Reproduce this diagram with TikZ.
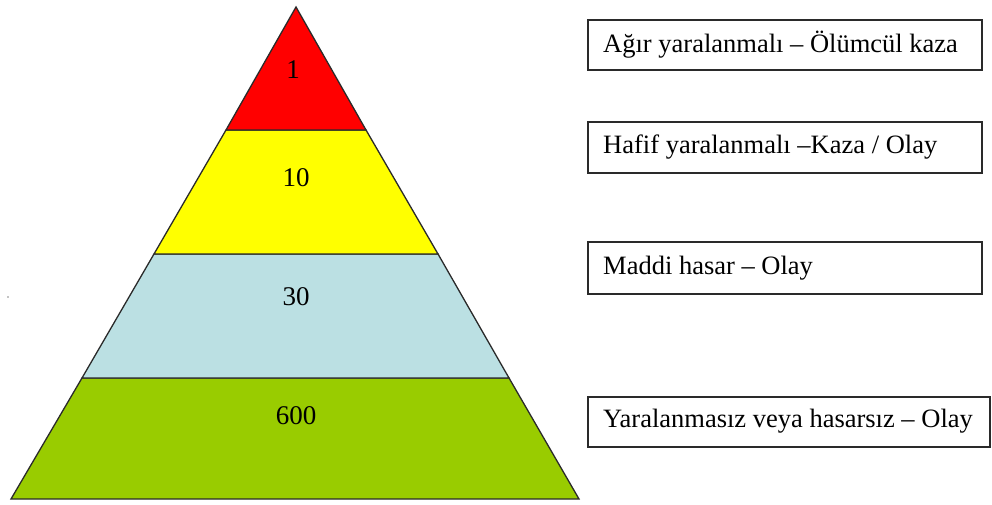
\documentclass[tikz,border=0pt]{standalone}
\usepackage{fontspec}
\setmainfont{Liberation Serif}
\definecolor{lvred}{HTML}{FF0000}
\definecolor{lvyellow}{HTML}{FFFF00}
\definecolor{lvblue}{HTML}{BBE0E3}
\definecolor{lvgreen}{HTML}{99CC00}
\definecolor{edge}{HTML}{2A2A2A}
\tikzset{
  layer/.style={draw=edge, line width=1.3pt, line join=miter},
  num/.style={font=\fontsize{27}{30}\selectfont, inner sep=0pt},
  labelbox/.style={draw=edge, line width=1.3pt},
  labeltext/.style={font=\fontsize{26.5}{30}\selectfont, anchor=west, inner sep=0pt}
}
\begin{document}
\begin{tikzpicture}[x=1pt,y=-1pt]
\useasboundingbox (0,0) rectangle (992,505);
% pyramid corner coordinates
\coordinate (apex) at (296,7);
\coordinate (l1) at (226,130); \coordinate (r1) at (366,130);
\coordinate (l2) at (154,254); \coordinate (r2) at (438,254);
\coordinate (l3) at (82,378);  \coordinate (r3) at (509,378);
\coordinate (l4) at (11,499);  \coordinate (r4) at (579,499);
\filldraw[layer, fill=lvgreen] (l3) -- (r3) -- (r4) -- (l4) -- cycle;
\filldraw[layer, fill=lvblue] (l2) -- (r2) -- (r3) -- (l3) -- cycle;
\filldraw[layer, fill=lvyellow] (l1) -- (r1) -- (r2) -- (l2) -- cycle;
\filldraw[layer, fill=lvred] (apex) -- (r1) -- (l1) -- cycle;
\node[num] (n1) at (293,70) {1};
\node[num] (n10) at (296,178) {10};
\node[num] (n30) at (296,297) {30};
\node[num] (n600) at (296,416) {600};
% label boxes
\draw[labelbox] (588,20) rectangle (982,70);
\draw[labelbox] (588,122) rectangle (982,173);
\draw[labelbox] (588,242) rectangle (982,294);
\draw[labelbox] (588,397) rectangle (990,447);
\node[labeltext] (t1) at (603,45) {Ağır yaralanmalı – Ölümcül kaza};
\node[labeltext] (t2) at (603,147) {Hafif yaralanmalı –Kaza / Olay};
\node[labeltext] (t3) at (603,268) {Maddi hasar – Olay};
\node[labeltext] (t4) at (603,421) {Yaralanmasız veya hasarsız – Olay};
\fill[black] (8,297) circle (0.7);
\end{tikzpicture}
\end{document}
